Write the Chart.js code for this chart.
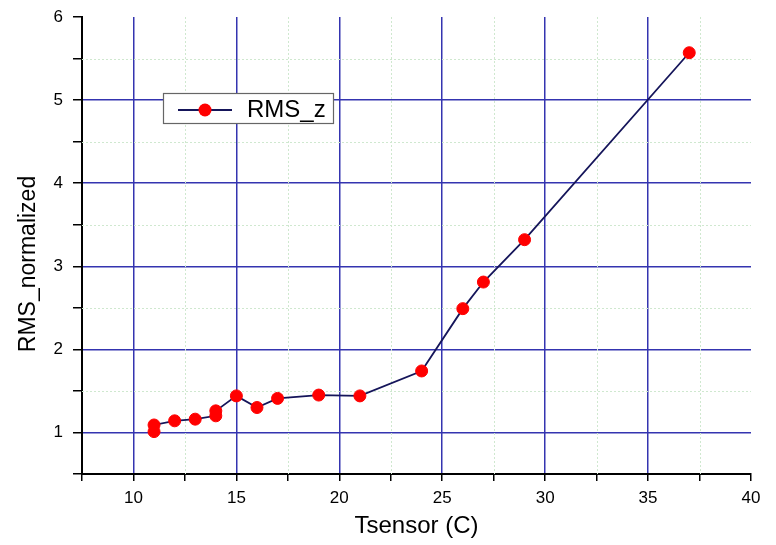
<!DOCTYPE html>
<html><head><meta charset="utf-8">
<script src="https://cdn.jsdelivr.net/npm/chart.js@4/dist/chart.umd.min.js"></script>
<style>html,body{margin:0;padding:0;background:#fff}#wrap{width:776px;height:545px;position:relative}</style>
</head><body><div id="wrap"><canvas id="c" width="776" height="545"></canvas></div>
<script>
const seriesLabel = "RMS_z";
const tsensor = [11, 11, 12, 13, 14, 14, 15, 16, 17, 19, 21, 24, 26, 27, 29, 37];
const rmsNormalized = [1.01, 1.09, 1.14, 1.16, 1.20, 1.26, 1.44, 1.30, 1.41, 1.45, 1.44, 1.74, 2.49, 2.81, 3.32, 5.57];
const xTitle = "Tsensor (C)";
const yTitle = "RMS_normalized";

const FONT = "'Liberation Sans', Arial, sans-serif";
const MAJOR = '#3434b0';
const MINOR = '#cfe8cf';
const NONE = 'rgba(0,0,0,0)';

const minorGrid = {
  id: 'minorGrid',
  beforeDatasetsDraw(chart) {
    const {ctx, chartArea: a, scales: {x, y}} = chart;
    ctx.save();
    ctx.strokeStyle = MINOR; ctx.lineWidth = 1; ctx.setLineDash([2, 2]);
    for (let v = 12.5; v < 40; v += 5) {
      const px = Math.round(x.getPixelForValue(v)) + 0.5;
      ctx.beginPath(); ctx.moveTo(px, a.top); ctx.lineTo(px, a.bottom); ctx.stroke();
    }
    for (let v = 1.5; v < 6; v += 1) {
      const py = Math.round(y.getPixelForValue(v)) + 0.5;
      ctx.beginPath(); ctx.moveTo(a.left, py); ctx.lineTo(a.right, py); ctx.stroke();
    }
    ctx.restore();
  }
};

const yAxisTitle = {
  id: 'yAxisTitle',
  afterDraw(chart) {
    const ctx = chart.ctx;
    ctx.save();
    ctx.translate(29, 264);
    ctx.rotate(-Math.PI / 2);
    ctx.fillStyle = '#000'; ctx.font = '23px ' + FONT;
    ctx.textAlign = 'center'; ctx.textBaseline = 'middle';
    ctx.fillText(yTitle, 0, 0);
    ctx.restore();
  }
};

const boxLegend = {
  id: 'boxLegend',
  afterDraw(chart) {
    const ctx = chart.ctx;
    const ds = chart.data.datasets[0];
    ctx.save();
    ctx.setLineDash([]);
    ctx.fillStyle = '#fff'; ctx.strokeStyle = '#666'; ctx.lineWidth = 1.2;
    ctx.fillRect(163, 93, 170, 30); ctx.strokeRect(163.5, 93.5, 170, 30);
    ctx.strokeStyle = ds.borderColor; ctx.lineWidth = 1.8;
    ctx.beginPath(); ctx.moveTo(178, 110); ctx.lineTo(232, 110); ctx.stroke();
    ctx.fillStyle = ds.pointBackgroundColor;
    ctx.beginPath(); ctx.arc(205, 110, 6.5, 0, Math.PI * 2); ctx.fill();
    ctx.fillStyle = '#000'; ctx.font = '24px ' + FONT; ctx.textBaseline = 'middle';
    ctx.fillText(ds.label, 247, 110);
    ctx.restore();
  }
};

new Chart(document.getElementById('c'), {
  type: 'scatter',
  data: {
    datasets: [{
      label: seriesLabel,
      data: tsensor.map((t, i) => ({x: t, y: rmsNormalized[i]})),
      showLine: true,
      borderColor: '#15155a',
      borderWidth: 1.8,
      pointBackgroundColor: '#ff0000',
      pointBorderColor: '#ff0000',
      pointRadius: 6,
      pointBorderWidth: 1,
      tension: 0
    }]
  },
  options: {
    responsive: false,
    animation: false,
    layout: {padding: {top: 17, right: 25, left: 0, bottom: 0}},
    plugins: {legend: {display: false}, tooltip: {enabled: false}},
    scales: {
      x: {
        type: 'linear', min: 7.5, max: 40,
        afterFit(s) { s.height = 71; },
        ticks: {
          stepSize: 2.5, autoSkip: false, maxRotation: 0,
          color: '#000', font: {family: FONT, size: 17}, padding: 7,
          callback: v => (v % 5 === 0 ? String(v) : '')
        },
        grid: {
          color: c => (c.tick && c.tick.value % 5 === 0 && c.tick.value < 40 ? MAJOR : NONE),
          lineWidth: 1.5, tickColor: '#000', tickLength: 7, tickWidth: 1.5
        },
        border: {color: '#000', width: 2},
        title: {display: true, text: xTitle, color: '#000', font: {family: FONT, size: 24}, padding: {top: 2}}
      },
      y: {
        type: 'linear', min: 0.5, max: 6,
        afterFit(s) { s.width = 82; s.paddingTop = 0; s.paddingBottom = 0; },
        ticks: {
          stepSize: 0.5, autoSkip: false, color: '#000',
          font: {family: FONT, size: 17}, padding: 10,
          callback: v => (Number.isInteger(v) ? String(v) : '')
        },
        grid: {
          color: c => (c.tick && Number.isInteger(c.tick.value) && c.tick.value < 6 ? MAJOR : NONE),
          lineWidth: 1.5, tickColor: '#000', tickLength: 9, tickWidth: 1.5
        },
        border: {color: '#000', width: 2},
        title: {display: false}
      }
    }
  },
  plugins: [minorGrid, boxLegend, yAxisTitle]
});
</script></body></html>
